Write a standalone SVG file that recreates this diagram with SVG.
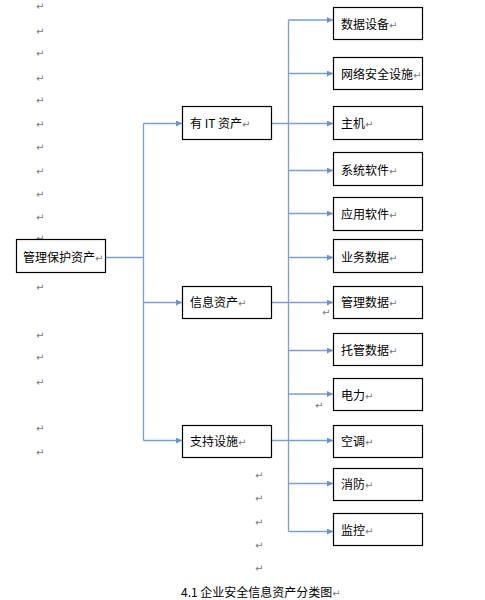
<svg xmlns="http://www.w3.org/2000/svg" width="485" height="600" viewBox="0 0 485 600">
<defs>
<marker id="arr" markerWidth="6" markerHeight="6" refX="6" refY="3" orient="auto" markerUnits="userSpaceOnUse">
<path d="M0,0 L6,3 L0,6 Z" fill="#6b93c4"/>
</marker>
</defs>
<style>
.box{fill:#fff;stroke:#000;stroke-width:1.2}
.t{font-family:"Noto Sans CJK SC","Liberation Sans",sans-serif;font-size:12px;fill:#000}
.pm{font-family:"DejaVu Sans",sans-serif;font-size:10px;fill:#7a7a7a}
.ln{fill:none;stroke:#7a9fcb;stroke-width:1.3}
.ar{fill:none;stroke:#7a9fcb;stroke-width:1.3;marker-end:url(#arr)}
</style>
<rect width="485" height="600" fill="#fff"/>
<g id="marks" class="pm">
<text x="36" y="10">↵</text>
<text x="36" y="35">↵</text>
<text x="36" y="57">↵</text>
<text x="36" y="82">↵</text>
<text x="36" y="104">↵</text>
<text x="36" y="128">↵</text>
<text x="36" y="151">↵</text>
<text x="36" y="175">↵</text>
<text x="36" y="198">↵</text>
<text x="36" y="221">↵</text>
<text x="36" y="242">↵</text>
<text x="36" y="291">↵</text>
<text x="36" y="339">↵</text>
<text x="36" y="361">↵</text>
<text x="36" y="386">↵</text>
<text x="36" y="432">↵</text>
<text x="36" y="456">↵</text>
<text x="255" y="479">↵</text>
<text x="255" y="502">↵</text>
<text x="255" y="526">↵</text>
<text x="255" y="549">↵</text>
<text x="255" y="572">↵</text>
<text x="322" y="316">↵</text>
<text x="315" y="409">↵</text>
</g>
<g id="connectors">
<path class="ln" d="M105,257.5 H143.5 M143.5,123.5 V440.5"/>
<path class="ar" d="M143.5,123.5 H182"/>
<path class="ar" d="M143.5,302.5 H182"/>
<path class="ar" d="M143.5,440.5 H182"/>
<path class="ln" d="M271.5,123.5 H288.5 M271.5,302.5 H288.5 M271.5,440.5 H288.5 M288.5,20 V531.5"/>
<path class="ar" d="M288.5,20 H333"/>
<path class="ar" d="M288.5,73.5 H333"/>
<path class="ar" d="M288.5,123.5 H333"/>
<path class="ar" d="M288.5,170.5 H333"/>
<path class="ar" d="M288.5,213.5 H333"/>
<path class="ar" d="M288.5,257.5 H333"/>
<path class="ar" d="M288.5,302.5 H333"/>
<path class="ar" d="M288.5,350.5 H333"/>
<path class="ar" d="M288.5,394 H333"/>
<path class="ar" d="M288.5,440.5 H333"/>
<path class="ar" d="M288.5,483.5 H333"/>
<path class="ar" d="M288.5,531.5 H333"/>
</g>
<g id="root"><rect class="box" x="16.5" y="239.5" width="89" height="33"/><text class="t" x="23" y="262">管理保护资产<tspan class="pm">↵</tspan></text></g>
<g id="it"><rect class="box" x="182.5" y="106.5" width="89" height="33"/><text class="t" x="190" y="128">有 IT 资产<tspan class="pm">↵</tspan></text></g>
<g id="info"><rect class="box" x="182.5" y="286.5" width="89" height="32"/><text class="t" x="190" y="307">信息资产<tspan class="pm">↵</tspan></text></g>
<g id="support"><rect class="box" x="182.5" y="425.5" width="89" height="32"/><text class="t" x="190" y="446">支持设施<tspan class="pm">↵</tspan></text></g>
<g id="n1"><rect class="box" x="333.5" y="7.5" width="89" height="32"/><text class="t" x="341" y="29">数据设备<tspan class="pm">↵</tspan></text></g>
<g id="n2"><rect class="box" x="333.5" y="57.5" width="89" height="32"/><text class="t" x="341" y="79">网络安全设施<tspan class="pm">↵</tspan></text></g>
<g id="n3"><rect class="box" x="333.5" y="106.5" width="89" height="33"/><text class="t" x="341" y="128">主机<tspan class="pm">↵</tspan></text></g>
<g id="n4"><rect class="box" x="333.5" y="152.5" width="89" height="33"/><text class="t" x="341" y="175">系统软件<tspan class="pm">↵</tspan></text></g>
<g id="n5"><rect class="box" x="333.5" y="197.5" width="89" height="33"/><text class="t" x="341" y="219">应用软件<tspan class="pm">↵</tspan></text></g>
<g id="n6"><rect class="box" x="333.5" y="239.5" width="89" height="33"/><text class="t" x="341" y="262">业务数据<tspan class="pm">↵</tspan></text></g>
<g id="n7"><rect class="box" x="333.5" y="286.5" width="89" height="32"/><text class="t" x="341" y="307">管理数据<tspan class="pm">↵</tspan></text></g>
<g id="n8"><rect class="box" x="333.5" y="333.5" width="89" height="32"/><text class="t" x="341" y="355">托管数据<tspan class="pm">↵</tspan></text></g>
<g id="n9"><rect class="box" x="333.5" y="378.5" width="89" height="32"/><text class="t" x="341" y="400">电力<tspan class="pm">↵</tspan></text></g>
<g id="n10"><rect class="box" x="333.5" y="425.5" width="89" height="32"/><text class="t" x="341" y="446">空调<tspan class="pm">↵</tspan></text></g>
<g id="n11"><rect class="box" x="333.5" y="468.5" width="89" height="32"/><text class="t" x="341" y="489">消防<tspan class="pm">↵</tspan></text></g>
<g id="n12"><rect class="box" x="333.5" y="513.5" width="89" height="32"/><text class="t" x="341" y="535">监控<tspan class="pm">↵</tspan></text></g>
<text class="t" x="181" y="597">4.1 企业安全信息资产分类图<tspan class="pm">↵</tspan></text>
</svg>
